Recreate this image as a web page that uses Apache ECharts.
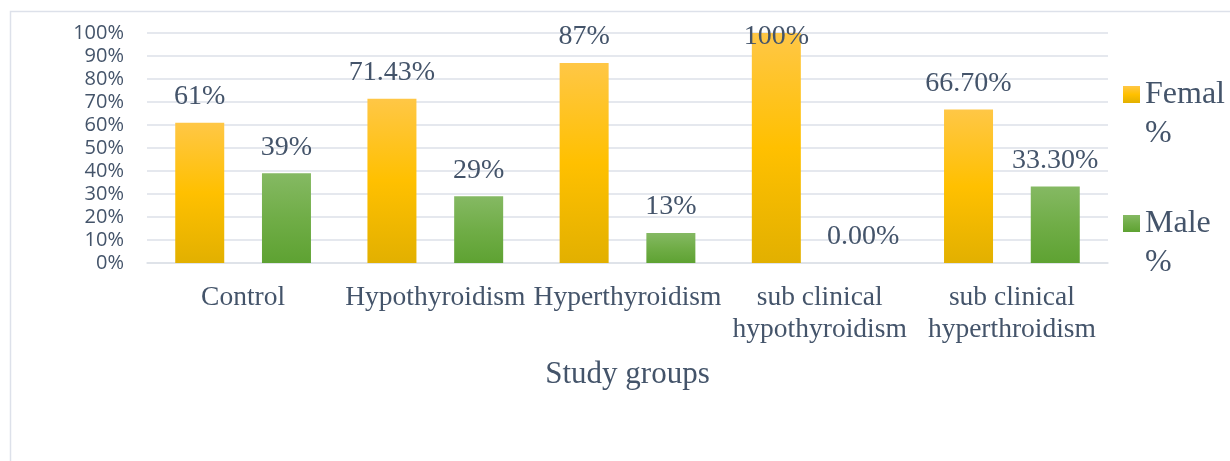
<!DOCTYPE html>
<html>
<head>
<meta charset="utf-8">
<script src="https://cdn.jsdelivr.net/npm/echarts@6/dist/echarts.min.js"></script>
<style>
  html, body { margin: 0; padding: 0; background: #ffffff; }
  #chart { width: 1230px; height: 461px; }
</style>
</head>
<body>
<div id="chart"></div>
<script>
// Study groups and the share of each sex within them (%)
const categories = ['Control', 'Hypothyroidism', 'Hyperthyroidism', 'sub clinical hypothyroidism', 'sub clinical hyperthroidism'];
const femaleValues = [61, 71.43, 87, 100, 66.7];
const maleValues = [39, 29, 13, 0, 33.3];
const femaleLabels = ['61%', '71.43%', '87%', '100%', '66.70%'];
const maleLabels = ['39%', '29%', '13%', '0.00%', '33.30%'];
const yTicks = [0, 10, 20, 30, 40, 50, 60, 70, 80, 90, 100];
const seriesNames = ['Femal %', 'Male %'];

const TEXT = '#44546A';
const GRID = '#dde1e8';
const SERIF = '"Liberation Serif", "Times New Roman", serif';

const femaleFill = new echarts.graphic.LinearGradient(0, 0, 0, 1, [
  { offset: 0, color: '#ffc746' },
  { offset: 0.5, color: '#ffc000' },
  { offset: 1, color: '#e2b000' }
]);
const maleFill = new echarts.graphic.LinearGradient(0, 0, 0, 1, [
  { offset: 0, color: '#85b963' },
  { offset: 0.5, color: '#70ad47' },
  { offset: 1, color: '#5ea232' }
]);

// Labels that would rise above the plot top are pulled back inside it
function buildData(values, labels) {
  return values.map((v, i) => {
    const item = { value: v, label: { formatter: labels[i] } };
    if (v >= 95) item.label.offset = [0, 30];
    return item;
  });
}

const labelStyle = {
  show: true,
  position: 'top',
  distance: 12,
  fontFamily: SERIF,
  fontSize: 28,
  color: TEXT
};

const chart = echarts.init(document.getElementById('chart'), null, { renderer: 'canvas' });
chart.setOption({
  backgroundColor: '#ffffff',
  animation: false,
  graphic: [{
    type: 'rect',
    shape: { x: 10.5, y: 11.5, width: 1240, height: 470 },
    style: { fill: 'none', stroke: '#dde1ea', lineWidth: 1.5 },
    silent: true,
    z: -1
  }],
  grid: {
    left: 147,
    right: 122,
    top: 33,
    bottom: 198,
    containLabel: false,
    outerBoundsMode: 'none'
  },
  legend: {
    orient: 'vertical',
    left: 1123,
    top: 36,
    padding: 0,
    itemWidth: 17,
    itemHeight: 17,
    itemGap: 12,
    icon: 'rect',
    // leading blank line keeps the swatch level with the first word
    formatter: name => '\n' + name.replace(' ', '\n'),
    textStyle: {
      fontFamily: SERIF,
      fontSize: 32,
      color: TEXT,
      lineHeight: 39
    },
    data: seriesNames
  },
  xAxis: {
    type: 'category',
    data: categories,
    name: 'Study groups',
    nameLocation: 'middle',
    nameGap: 96,
    nameTextStyle: { fontFamily: SERIF, fontSize: 31, color: TEXT },
    axisLine: { show: true, lineStyle: { color: GRID, width: 1.5 } },
    axisTick: { show: false },
    axisLabel: {
      interval: 0,
      margin: 19,
      fontFamily: SERIF,
      fontSize: 27.5,
      lineHeight: 32,
      color: TEXT,
      formatter: v => v.replace('clinical ', 'clinical\n')
    }
  },
  yAxis: {
    type: 'value',
    min: yTicks[0],
    max: yTicks[yTicks.length - 1],
    interval: yTicks[1] - yTicks[0],
    axisLine: { show: false },
    axisTick: { show: false },
    splitLine: { show: true, lineStyle: { color: GRID, width: 1.5 } },
    axisLabel: {
      margin: 23,
      fontFamily: '"Open Sans", sans-serif',
      fontSize: 20,
      color: TEXT,
      formatter: v => v + '%'
    }
  },
  series: [
    {
      name: seriesNames[0],
      type: 'bar',
      data: buildData(femaleValues, femaleLabels),
      barWidth: 49,
      barGap: '77%',
      itemStyle: { color: femaleFill },
      label: labelStyle
    },
    {
      name: seriesNames[1],
      type: 'bar',
      data: buildData(maleValues, maleLabels),
      barWidth: 49,
      itemStyle: { color: maleFill },
      label: labelStyle
    }
  ]
});
</script>
</body>
</html>
